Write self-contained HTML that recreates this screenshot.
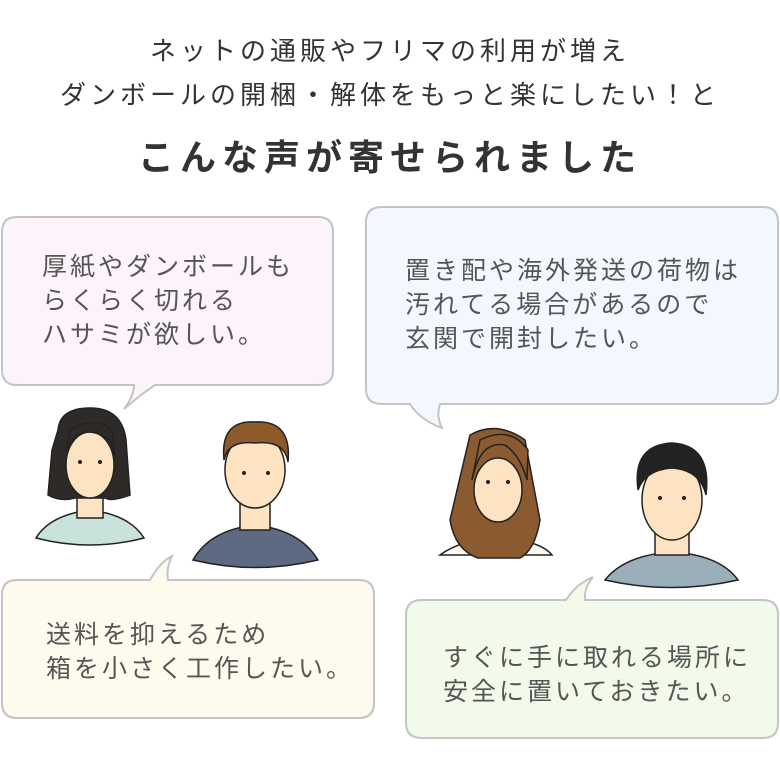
<!DOCTYPE html>
<html><head><meta charset="utf-8"><style>
body{margin:0;width:780px;height:780px;background:#fff;position:relative;overflow:hidden;font-family:"Liberation Sans","Noto Sans CJK JP",sans-serif}
.t{position:absolute;left:0;width:780px;text-align:center;color:#333;white-space:nowrap}
.b{position:absolute;color:#555;font-size:25px;line-height:34px;letter-spacing:3px;white-space:nowrap}
svg{position:absolute;left:0;top:0}
</style></head><body>
<svg width="780" height="780" viewBox="0 0 780 780">
<g stroke="#c4c4c4" stroke-width="2">
<path d="M17 217 H318 Q333 217 333 232 V370 Q333 385 318 385 H155 Q140 395 124 409 Q134 396 134 385 H17 Q2 385 2 370 V232 Q2 217 17 217Z" fill="#fcf3fb"/>
<path d="M382 207 H763 Q778 207 778 222 V389 Q778 404 763 404 H440 Q436 416 442 428 Q420 420 410 404 H382 Q366 404 366 389 V222 Q366 207 382 207Z" fill="#f2f8fd"/>
<path d="M17 580 H150 Q160 562 172 556 Q166 568 168 580 H359 Q374 580 374 595 V703 Q374 718 359 718 H17 Q2 718 2 703 V595 Q2 580 17 580Z" fill="#fefbee"/>
<path d="M422 600 H566 Q576 584 593 577 Q584 588 585 600 H763 Q778 600 778 615 V723 Q778 738 763 738 H422 Q406 738 406 723 V615 Q406 600 422 600Z" fill="#f2faea"/>
</g>
<g stroke="#222" stroke-width="1.5">
<path d="M36 538 Q50 515 90 510 Q130 515 144 538 Q90 552 36 538Z" fill="#c9e3dc"/>
<rect x="77" y="490" width="26" height="28" fill="#fde3c1"/>
<path d="M58 430 Q60 408 90 408 Q122 408 126 440 L130 495 Q112 502 105 498 L75 498 Q60 502 48 495 L52 450Z" fill="#2e2a28"/>
<ellipse cx="90" cy="465" rx="24" ry="33" fill="#fde3c1"/>
<path d="M66 450 Q80 420 110 440 L115 455 L112 430 Q95 415 70 430Z" fill="#2e2a28"/>
<path d="M193 560 Q210 530 255 525 Q300 530 318 560 Q255 575 193 560Z" fill="#5d6a82"/>
<rect x="240" y="495" width="30" height="35" fill="#fde3c1"/>
<ellipse cx="255" cy="470" rx="30" ry="38" fill="#fde3c1"/>
<path d="M224 460 Q220 420 255 422 Q292 420 288 462 Q285 440 255 443 Q228 440 224 460Z" fill="#8d5a2a"/>
<path d="M440 555 Q460 540 497 538 Q540 540 552 555Z" fill="#fdfaf0"/>
<path d="M470 435 Q497 420 525 440 L540 520 Q535 550 520 558 L478 558 Q455 550 450 520Z" fill="#8b5a30"/>
<ellipse cx="498" cy="490" rx="24" ry="32" fill="#fde3c1"/>
<path d="M472 480 Q480 440 505 445 Q520 455 527 480 L528 450 Q510 425 480 440Z" fill="#8b5a30"/>
<path d="M605 580 Q625 555 672 552 Q720 555 738 580 Q672 595 605 580Z" fill="#9aafb9"/>
<rect x="655" y="520" width="34" height="35" fill="#fde3c1"/>
<ellipse cx="672" cy="500" rx="30" ry="40" fill="#fde3c1"/>
<path d="M638 490 Q632 445 672 443 Q712 445 706 495 Q700 470 672 468 Q645 470 638 490Z" fill="#222"/>
</g>
<g fill="#222">
<circle cx="80" cy="462" r="2"/><circle cx="100" cy="462" r="2"/>
<circle cx="244" cy="473" r="2"/><circle cx="268" cy="473" r="2"/>
<circle cx="488" cy="482" r="2"/><circle cx="508" cy="482" r="2"/>
<circle cx="660" cy="498" r="2"/><circle cx="684" cy="498" r="2"/>
</g>
</svg>
<div class="t" style="top:35px;font-size:26px;line-height:32px;letter-spacing:4px">ネットの通販やフリマの利用が増え</div>
<div class="t" style="top:79px;font-size:26px;line-height:32px;letter-spacing:4px">ダンボールの開梱・解体をもっと楽にしたい！と</div>
<div class="t" style="top:135px;font-size:36px;line-height:46px;font-weight:bold;letter-spacing:6px">こんな声が寄せられました</div>
<div class="b" style="left:42px;top:250px">厚紙やダンボールも<br>らくらく切れる<br>ハサミが欲しい。</div>
<div class="b" style="left:405px;top:254px">置き配や海外発送の荷物は<br>汚れてる場合があるので<br>玄関で開封したい。</div>
<div class="b" style="left:46px;top:618px">送料を抑えるため<br>箱を小さく工作したい。</div>
<div class="b" style="left:443px;top:641px">すぐに手に取れる場所に<br>安全に置いておきたい。</div>
</body></html>
